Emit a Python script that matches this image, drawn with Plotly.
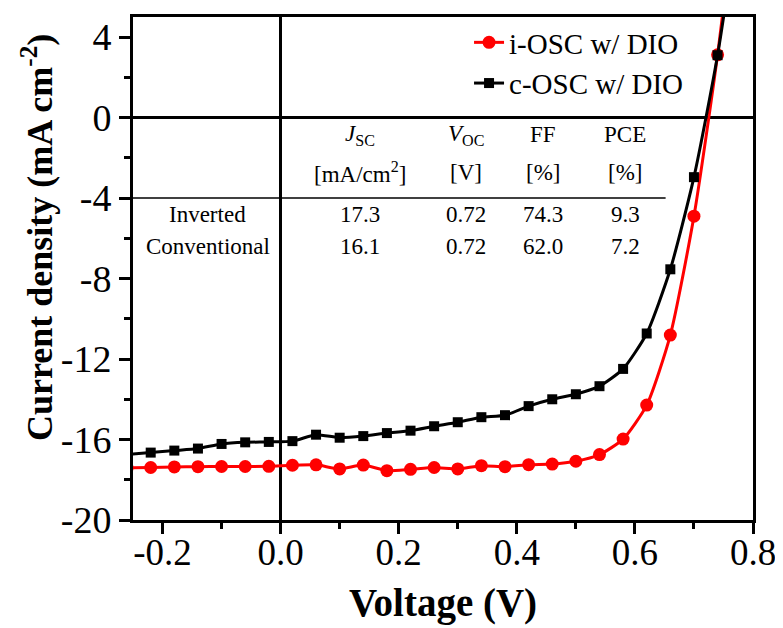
import plotly.graph_objects as go

# ---------------- data ----------------
voltage = [-0.26, -0.22, -0.18, -0.14, -0.10, -0.06, -0.02, 0.02, 0.06, 0.10, 0.14,
           0.18, 0.22, 0.26, 0.30, 0.34, 0.38, 0.42, 0.46, 0.50, 0.54, 0.58,
           0.62, 0.66, 0.70, 0.74, 0.78]
j_inverted = [-17.40, -17.39, -17.36, -17.35, -17.34, -17.34, -17.33, -17.28, -17.26, -17.46,
              -17.27, -17.55, -17.48, -17.39, -17.46, -17.30, -17.35, -17.25, -17.22,
              -17.08, -16.75, -15.98, -14.29, -10.81, -4.90, 3.12, 13.0]
j_conventional = [-16.75, -16.65, -16.55, -16.45, -16.22, -16.14, -16.12, -16.08, -15.76, -15.91,
                  -15.83, -15.68, -15.56, -15.34, -15.14, -14.89, -14.79, -14.34, -14.00,
                  -13.75, -13.35, -12.49, -10.73, -7.54, -2.96, 3.10, 11.0]
series_names = ["i-OSC w/ DIO", "c-OSC w/ DIO"]

x_tickvals = [-0.2, 0.0, 0.2, 0.4, 0.6, 0.8]
x_ticktext = ["-0.2", "0.0", "0.2", "0.4", "0.6", "0.8"]
x_minorvals = [-0.1, 0.1, 0.3, 0.5, 0.7]
y_tickvals = [-20, -16, -12, -8, -4, 0, 4]
y_ticktext = ["-20", "-16", "-12", "-8", "-4", "0", "4"]
y_minorvals = [-18, -14, -10, -6, -2, 2]

x_title = "<b>Voltage (V)</b>"
y_title = "<b>Current density (mA cm<sup>-2</sup>)</b>"

table_header1 = ["<i>J</i><sub>SC</sub>", "<i>V</i><sub>OC</sub>", "FF", "PCE"]
table_header2 = ["[mA/cm<sup>2</sup>]", "[V]", "[%]", "[%]"]
table_rows = ["Inverted", "Conventional"]
table_jsc = ["17.3", "16.1"]
table_voc = ["0.72", "0.72"]
table_ff = ["74.3", "62.0"]
table_pce = ["9.3", "7.2"]

# ---------------- figure ----------------
SERIF = "Liberation Serif"
fig = go.Figure()
fig.add_trace(go.Scatter(
    x=voltage, y=j_inverted, name=series_names[0], mode="lines+markers",
    line=dict(color="#ff0000", width=3, shape="spline", smoothing=0.6),
    marker=dict(symbol="circle", size=13, color="#ff0000"),
    cliponaxis=True))
fig.add_trace(go.Scatter(
    x=voltage, y=j_conventional, name=series_names[1], mode="lines+markers",
    line=dict(color="#000000", width=3, shape="spline", smoothing=0.6),
    marker=dict(symbol="square", size=10, color="#000000"),
    cliponaxis=True))

# table separator line
fig.add_shape(type="line", xref="x", yref="y", x0=-0.25, x1=0.652, y0=-4, y1=-4,
              line=dict(color="black", width=1.5), layer="below")

col_x = [0.135, 0.314, 0.444, 0.584]
label_x = -0.123
row_y_h1, row_y_h2 = -0.86, -2.75
row_y = [-4.84, -6.43]
tfont = dict(family=SERIF, size=23, color="black")
for cx, h1, h2 in zip(col_x, table_header1, table_header2):
    fig.add_annotation(x=cx, y=row_y_h1, text=h1, showarrow=False, font=tfont,
                       xref="x", yref="y")
    fig.add_annotation(x=cx, y=row_y_h2, text=h2, showarrow=False, font=tfont,
                       xref="x", yref="y")
for i, ry in enumerate(row_y):
    fig.add_annotation(x=label_x, y=ry, text=table_rows[i], showarrow=False,
                       font=tfont, xref="x", yref="y")
    for cx, vals in zip(col_x, [table_jsc, table_voc, table_ff, table_pce]):
        fig.add_annotation(x=cx, y=ry, text=vals[i], showarrow=False, font=tfont,
                           xref="x", yref="y")

# axis titles
fig.add_annotation(x=0.5, y=0, xref="paper", yref="paper", text=x_title,
                   showarrow=False, xanchor="center", yanchor="middle", yshift=-83,
                   font=dict(family=SERIF, size=39, color="black"))
fig.add_annotation(x=0, y=0.5606, xref="paper", yref="paper", text=y_title,
                   showarrow=False, xanchor="center", yanchor="middle", xshift=-96,
                   textangle=-90, font=dict(family=SERIF, size=36, color="black"))

axis_common = dict(
    showgrid=False, showline=True, linecolor="black", linewidth=3, mirror=True,
    ticks="outside", ticklen=11, tickwidth=3, tickcolor="black",
    zeroline=True, zerolinecolor="black", zerolinewidth=3,
)

fig.update_xaxes(
    range=[-0.25, 0.8], tickmode="array", tickvals=x_tickvals, ticktext=x_ticktext,
    tickfont=dict(family=SERIF, size=37, color="black"), ticklabelstandoff=-13,
    minor=dict(tickmode="array", tickvals=x_minorvals, ticks="outside", ticklen=6,
               tickwidth=3, tickcolor="black"),
    **axis_common)
fig.update_yaxes(
    range=[-20, 5], tickmode="array", tickvals=y_tickvals, ticktext=y_ticktext,
    tickfont=dict(family=SERIF, size=38, color="black"),
    minor=dict(tickmode="array", tickvals=y_minorvals, ticks="outside", ticklen=6,
               tickwidth=3, tickcolor="black"),
    **axis_common)

fig.update_layout(
    width=775, height=620,
    margin=dict(l=125, r=30, t=9, b=108, autoexpand=False),
    paper_bgcolor="white", plot_bgcolor="white",
    showlegend=True,
    legend=dict(x=0.542, y=1.0, xanchor="left", yanchor="top",
                bgcolor="rgba(0,0,0,0)", borderwidth=0,
                font=dict(family=SERIF, size=29, color="black"),
                tracegroupgap=0, itemwidth=30),
)

fig.write_html("out.html")
